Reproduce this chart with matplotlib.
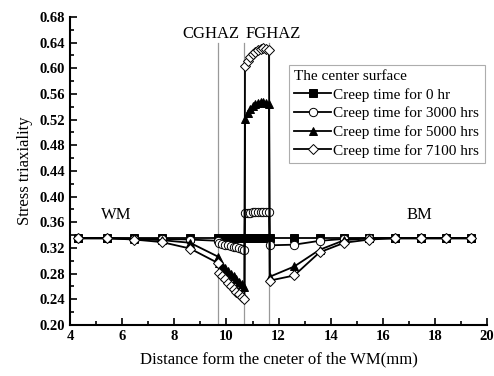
import matplotlib
matplotlib.use("Agg")
import matplotlib.pyplot as plt
from matplotlib.ticker import MultipleLocator

plt.rcParams['font.family'] = ['Liberation Serif', 'DejaVu Serif']

# positions along the specimen (mm): WM, CGHAZ, FGHAZ, BM
x = [4.32, 5.40, 6.46, 7.52, 8.60, 9.69,
     9.72, 9.83, 9.94, 10.05, 10.16, 10.27, 10.38, 10.49, 10.60, 10.69,
     10.71, 10.81, 10.91, 11.01, 11.11, 11.21, 11.31, 11.41, 11.51, 11.63,
     11.66, 12.60, 13.57, 14.52, 15.48, 16.46, 17.45, 18.42, 19.40]

t0 = [0.335, 0.335, 0.335, 0.335, 0.335, 0.335,
      0.335, 0.335, 0.335, 0.335, 0.335, 0.335, 0.335, 0.335, 0.335, 0.335,
      0.335, 0.335, 0.335, 0.335, 0.335, 0.335, 0.335, 0.335, 0.335, 0.335,
      0.335, 0.335, 0.335, 0.335, 0.335, 0.335, 0.335, 0.335, 0.335]

t3000 = [0.335, 0.335, 0.334, 0.334, 0.333, 0.331,
         0.327, 0.326, 0.325, 0.324, 0.323, 0.322, 0.321, 0.320, 0.318, 0.317,
         0.374, 0.375, 0.375, 0.376, 0.376, 0.376, 0.376, 0.376, 0.376, 0.376,
         0.324, 0.325, 0.331, 0.334, 0.335, 0.335, 0.335, 0.335, 0.335]

t5000 = [0.335, 0.335, 0.334, 0.332, 0.328, 0.306,
         0.297, 0.293, 0.289, 0.284, 0.280, 0.276, 0.271, 0.267, 0.263, 0.259,
         0.521, 0.531, 0.537, 0.541, 0.544, 0.546, 0.547, 0.547, 0.546, 0.545,
         0.275, 0.291, 0.317, 0.332, 0.335, 0.335, 0.335, 0.335, 0.335]

t7100 = [0.335, 0.335, 0.333, 0.329, 0.319, 0.296,
         0.281, 0.276, 0.271, 0.266, 0.261, 0.256, 0.252, 0.248, 0.244, 0.241,
         0.603, 0.612, 0.618, 0.622, 0.626, 0.628, 0.630, 0.631, 0.630, 0.628,
         0.269, 0.277, 0.313, 0.328, 0.333, 0.335, 0.335, 0.335, 0.335]

zone_bounds = [9.69, 10.69, 11.65]
labels = ['Creep time for 0 hr', 'Creep time for 3000 hrs',
          'Creep time for 5000 hrs', 'Creep time for 7100 hrs']

fig = plt.figure(figsize=(4.94, 3.76), dpi=100)
ax = fig.add_axes([0.142, 0.136, 0.844, 0.819])

for xb in zone_bounds:
    ax.plot([xb, xb], [0.20, 0.64], color='#999999', lw=0.9, zorder=1)

styles = [('s', 'black'), ('o', 'white'), ('^', 'black'), ('D', 'white')]
for ys, (m, fc), lab in zip([t0, t3000, t5000, t7100], styles, labels):
    ax.plot(x, ys, color='black', lw=1.3, marker=m, ms=6 if m != 'D' else 5.5,
            mfc=fc, mec='black', mew=0.7, label=lab, zorder=3)

ax.set_xlim(4, 20)
ax.set_ylim(0.20, 0.68)
ax.xaxis.set_major_locator(MultipleLocator(2))
ax.xaxis.set_minor_locator(MultipleLocator(1))
ax.yaxis.set_major_locator(MultipleLocator(0.04))
ax.yaxis.set_minor_locator(MultipleLocator(0.02))
ax.yaxis.set_major_formatter(plt.FormatStrFormatter('%.2f'))
ax.tick_params(which='both', direction='in', labelsize=10.5, width=1.2)
ax.tick_params(which='major', length=5)
ax.tick_params(which='minor', length=3)
for lbl in ax.get_xticklabels() + ax.get_yticklabels():
    lbl.set_fontweight('bold')
for s in ['top', 'right']:
    ax.spines[s].set_visible(False)
for s in ['left', 'bottom']:
    ax.spines[s].set_linewidth(1.5)

ax.set_xlabel('Distance form the cneter of the WM(mm)', fontsize=12, labelpad=6)
ax.set_ylabel('Stress triaxiality', fontsize=12, labelpad=5)

ax.text(5.75, 0.365, 'WM', fontsize=12, ha='center')
ax.text(17.4, 0.365, 'BM', fontsize=12, ha='center')
ax.text(9.42, 0.647, 'CGHAZ', fontsize=12, ha='center')
ax.text(11.8, 0.647, 'FGHAZ', fontsize=12, ha='center')

leg = ax.legend(loc='upper left', bbox_to_anchor=(0.525, 0.845), fontsize=11,
                title='The center surface', title_fontsize=11,
                frameon=True, fancybox=False, edgecolor='#999999',
                handlelength=2.4, handletextpad=0.15, borderpad=0.35,
                labelspacing=0.32, borderaxespad=0)
leg._legend_box.align = 'left'
leg.get_frame().set_linewidth(0.8)

fig.savefig('out.png', dpi=100)
